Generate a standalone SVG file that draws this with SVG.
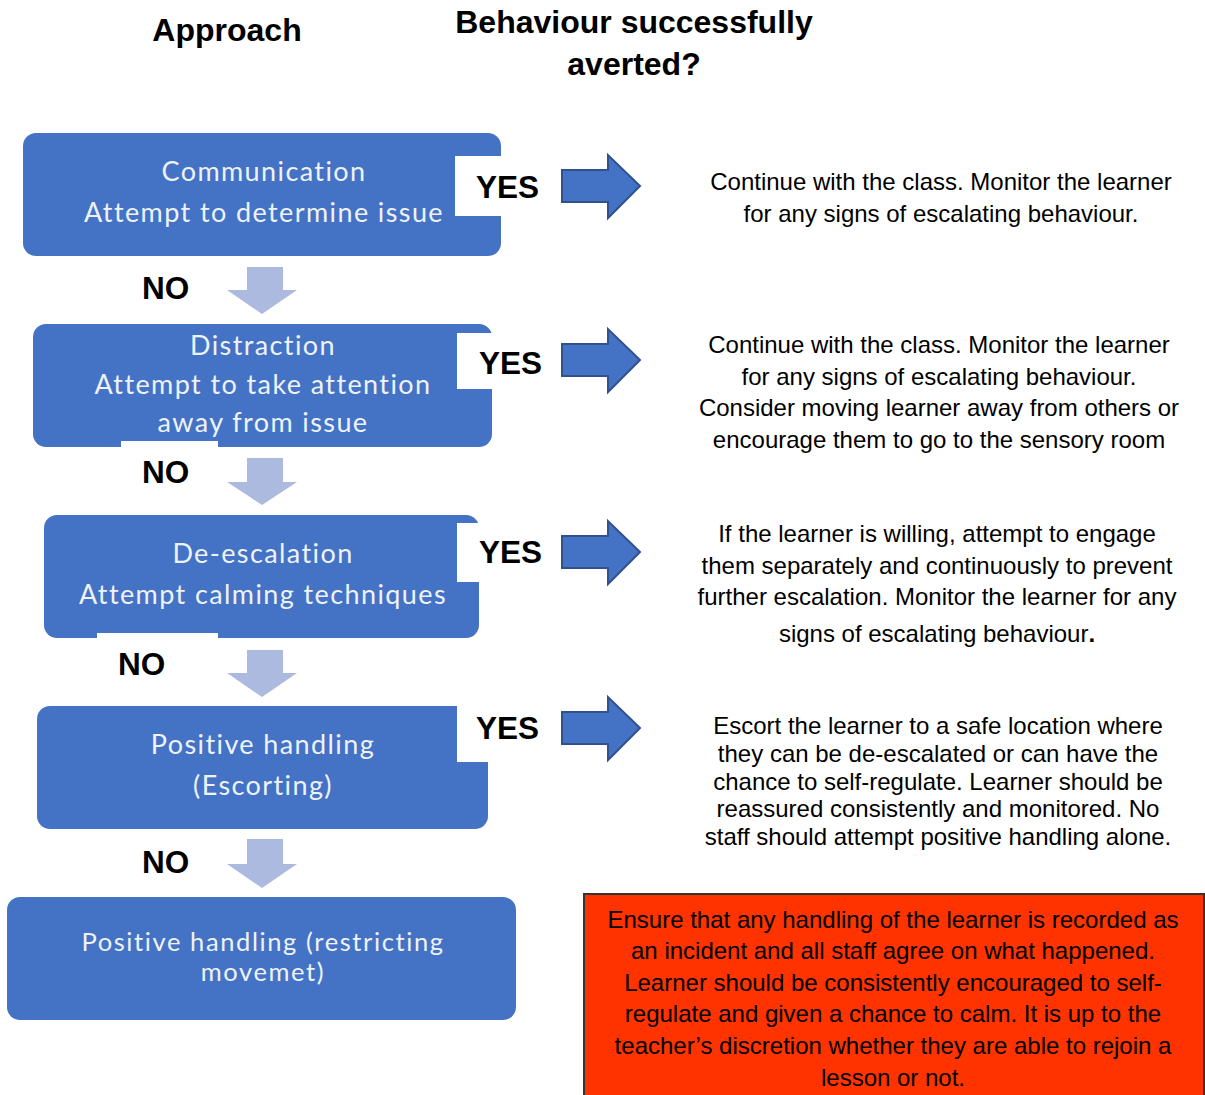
<svg xmlns="http://www.w3.org/2000/svg" width="1205" height="1095" viewBox="0 0 1205 1095">
<defs>
<style>
.box{fill:#4472C4}
.btxt{font-family:Lato,"Open Sans",sans-serif;font-size:27px;fill:#EEF2FA;text-anchor:middle;letter-spacing:1.4px}
.b5{font-size:25.5px;letter-spacing:1.6px}
.hdr{font-family:"Liberation Sans",Arial,sans-serif;font-weight:bold;font-size:32px;fill:#000;text-anchor:middle}
.lbl{font-family:"Liberation Sans",Arial,sans-serif;font-weight:bold;font-size:31.5px;fill:#000}
.desc{font-family:"Liberation Sans",Arial,sans-serif;font-size:24px;fill:#000;text-anchor:middle}
.down{fill:#ADBADF}
.right{fill:#4472C4;stroke:#2F528F;stroke-width:2}
.wh{fill:#fff}
</style>
</defs>
<rect width="1205" height="1095" fill="#fff"/>
<g id="headers">
<text class="hdr" x="227" y="41">Approach</text>
<text class="hdr" x="634" y="33">Behaviour successfully</text>
<text class="hdr" x="634" y="75">averted?</text>
</g>
<g id="node1">
<rect class="box" x="23" y="133" width="478" height="123" rx="13"/>
<rect class="wh" x="455" y="156" width="50" height="60"/>
<text class="btxt" x="264" y="181">Communication</text>
<text class="btxt" x="264" y="222">Attempt to determine issue</text>
</g>
<g id="node2">
<rect class="box" x="33" y="324" width="459" height="123" rx="13"/>
<rect class="wh" x="457" y="333" width="38" height="56"/>
<rect class="wh" x="121" y="441" width="97" height="8"/>
<text class="btxt" x="263" y="355">Distraction</text>
<text class="btxt" x="263" y="394">Attempt to take attention</text>
<text class="btxt" x="263" y="432">away from issue</text>
</g>
<g id="node3">
<rect class="box" x="44" y="515" width="435" height="123" rx="13"/>
<rect class="wh" x="457" y="523" width="25" height="59"/>
<rect class="wh" x="97" y="633" width="121" height="7"/>
<text class="btxt" x="263" y="563">De-escalation</text>
<text class="btxt" x="263" y="604">Attempt calming techniques</text>
</g>
<g id="node4">
<rect class="box" x="37" y="706" width="451" height="123" rx="13"/>
<rect class="wh" x="457" y="704" width="34" height="58"/>
<text class="btxt" x="263" y="754">Positive handling</text>
<text class="btxt" x="263" y="795">(Escorting)</text>
</g>
<g id="node5">
<rect class="box" x="7" y="897" width="509" height="123" rx="13"/>
<text class="btxt b5" x="263" y="951">Positive handling (restricting</text>
<text class="btxt b5" x="263" y="981">movemet)</text>
</g>
<g id="connectors">
<polygon class="down" points="247,267 283,267 283,290 297,290 262,314 227,290 247,290"/>
<polygon class="down" points="247,458 283,458 283,482 297,482 262,505 227,482 247,482"/>
<polygon class="down" points="247,650 283,650 283,673 297,673 262,697 227,673 247,673"/>
<polygon class="down" points="247,839 283,839 283,864 297,864 262,888 227,864 247,864"/>
<polygon class="right" points="562,170 608,170 608,155 640,186 608,218 608,202 562,202"/>
<polygon class="right" points="562,344 608,344 608,329 640,360 608,392 608,376 562,376"/>
<polygon class="right" points="562,536 608,536 608,521 640,552 608,584 608,568 562,568"/>
<polygon class="right" points="562,712 608,712 608,697 640,728 608,760 608,744 562,744"/>
</g>
<g id="labels">
<text class="lbl" x="476" y="198">YES</text>
<text class="lbl" x="479" y="374">YES</text>
<text class="lbl" x="479" y="563">YES</text>
<text class="lbl" x="476" y="739">YES</text>
<text class="lbl" x="142" y="299">NO</text>
<text class="lbl" x="142" y="483">NO</text>
<text class="lbl" x="118" y="675">NO</text>
<text class="lbl" x="142" y="873">NO</text>
</g>
<g id="outcome1">
<text class="desc" x="941" y="190">Continue with the class. Monitor the learner</text>
<text class="desc" x="941" y="222">for any signs of escalating behaviour.</text>
</g>
<g id="outcome2">
<text class="desc" x="939" y="353">Continue with the class. Monitor the learner</text>
<text class="desc" x="939" y="385">for any signs of escalating behaviour.</text>
<text class="desc" x="939" y="416">Consider moving learner away from others or</text>
<text class="desc" x="939" y="448">encourage them to go to the sensory room</text>
</g>
<g id="outcome3">
<text class="desc" x="937" y="542">If the learner is willing, attempt to engage</text>
<text class="desc" x="937" y="574">them separately and continuously to prevent</text>
<text class="desc" x="937" y="605">further escalation. Monitor the learner for any</text>
<text class="desc" x="937" y="642">signs of escalating behaviour<tspan font-weight="bold">.</tspan></text>
</g>
<g id="outcome4">
<text class="desc" x="938" y="734">Escort the learner to a safe location where</text>
<text class="desc" x="938" y="762">they can be de-escalated or can have the</text>
<text class="desc" x="938" y="790">chance to self-regulate.  Learner should be</text>
<text class="desc" x="938" y="817">reassured consistently and monitored. No</text>
<text class="desc" x="938" y="845">staff should attempt positive handling alone.</text>
</g>
<g id="note">
<rect x="584" y="894" width="620" height="203" fill="#FF3300" stroke="#333" stroke-width="2"/>
<text class="desc" x="893" y="928">Ensure that any handling of the learner is recorded as</text>
<text class="desc" x="893" y="959">an incident and all staff agree on what happened.</text>
<text class="desc" x="893" y="991">Learner should be consistently encouraged to self-</text>
<text class="desc" x="893" y="1022">regulate and given a chance to calm. It is up to the</text>
<text class="desc" x="893" y="1054">teacher’s discretion whether they are able to rejoin a</text>
<text class="desc" x="893" y="1086">lesson or not.</text>
</g>
</svg>
